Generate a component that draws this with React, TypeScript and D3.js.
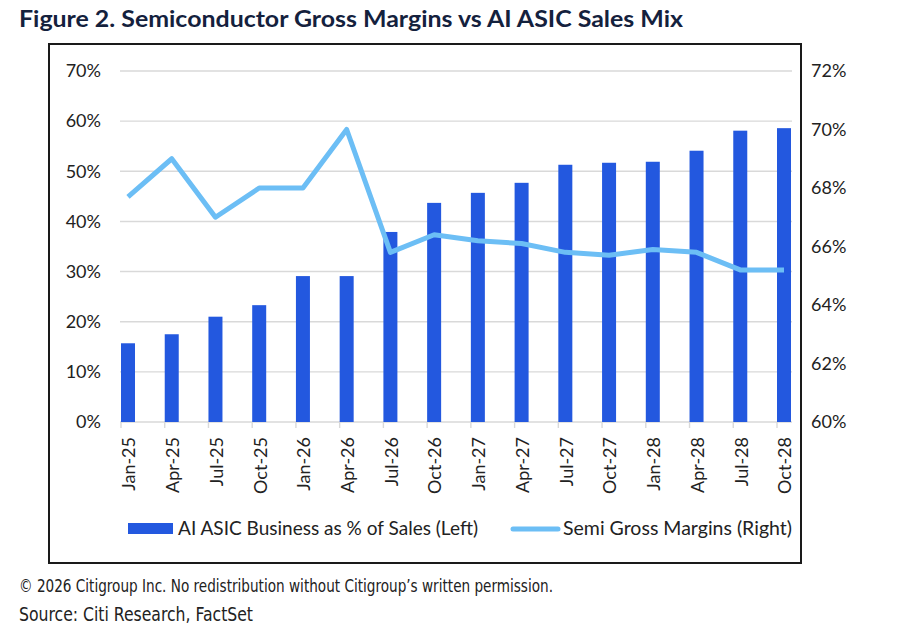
import React from 'react';
import * as d3 from 'd3';

const categories = [
  'Jan-25', 'Apr-25', 'Jul-25', 'Oct-25',
  'Jan-26', 'Apr-26', 'Jul-26', 'Oct-26',
  'Jan-27', 'Apr-27', 'Jul-27', 'Oct-27',
  'Jan-28', 'Apr-28', 'Jul-28', 'Oct-28',
];

// AI ASIC business as % of sales (left axis)
const asicShare = [15.7, 17.5, 21.0, 23.3, 29.1, 29.1, 37.9, 43.7, 45.7, 47.7, 51.3, 51.7, 51.9, 54.1, 58.1, 58.6];

// Semi gross margins (right axis)
const grossMargin = [67.7, 69.0, 67.0, 68.0, 68.0, 70.0, 65.8, 66.4, 66.2, 66.1, 65.8, 65.7, 65.9, 65.8, 65.2, 65.2];

const leftTicks = [0, 10, 20, 30, 40, 50, 60, 70];
const rightTicks = [60, 62, 64, 66, 68, 70, 72];

const W = 900;
const H = 628;
const plot = { left: 120, right: 792, top: 71, bottom: 422 };
const BAR_W = 14;

const BAR_COLOR = '#2358df';
const LINE_COLOR = '#6cbef5';
const GRID = '#d9d9d9';
const TEXT = '#222';
const axisFont = 'Lato, "Open Sans", sans-serif';
const narrowFont = '"Liberation Sans Narrow", "DejaVu Sans Condensed", "Roboto", sans-serif';

const x = d3.scalePoint<string>().domain(categories).range([128, 784]);
const yL = d3.scaleLinear().domain([0, 70]).range([plot.bottom, plot.top]);
const yR = d3.scaleLinear().domain([60, 72]).range([plot.bottom, plot.top]);

const line = d3.line<number>()
  .x((_d, i) => x(categories[i])!)
  .y(d => yR(d));

export default function App() {
  return (
    <svg width={W} height={H} style={{ position: 'absolute', left: 0, top: 0, background: '#fff' }}>
      {/* title */}
      <text x={19} y={27} fontFamily={axisFont} fontWeight={700} fontSize={23} fill="#14213d"
        textLength={664} lengthAdjust="spacingAndGlyphs">
        Figure 2. Semiconductor Gross Margins vs AI ASIC Sales Mix
      </text>

      {/* frame */}
      <rect x={49} y={44} width={752} height={519} fill="none" stroke="#1a1a1a" strokeWidth={2} />

      {/* gridlines */}
      {leftTicks.map(t => (
        <line key={t} x1={plot.left} x2={plot.right} y1={yL(t)} y2={yL(t)} stroke={GRID} strokeWidth={1.4} />
      ))}

      {/* category tick marks */}
      {categories.map(c => (
        <line key={c} x1={x(c)! - BAR_W / 2} x2={x(c)! - BAR_W / 2} y1={plot.bottom} y2={plot.bottom + 6} stroke={GRID} strokeWidth={1.4} />
      ))}

      {/* bars */}
      {asicShare.map((v, i) => (
        <rect key={i} x={x(categories[i])! - BAR_W / 2} y={yL(v)} width={BAR_W} height={yL(0) - yL(v)} fill={BAR_COLOR} />
      ))}

      {/* margin line */}
      <path d={line(grossMargin)!} fill="none" stroke={LINE_COLOR} strokeWidth={5} strokeLinejoin="round" />

      {/* left axis */}
      {leftTicks.map(t => (
        <text key={t} x={101} y={yL(t)} dy="0.35em" textAnchor="end" fontFamily={axisFont} fontSize={18} fill={TEXT}>
          {t}%
        </text>
      ))}

      {/* right axis */}
      {rightTicks.map(t => (
        <text key={t} x={811} y={yR(t)} dy="0.35em" textAnchor="start" fontFamily={axisFont} fontSize={18} fill={TEXT}>
          {t}%
        </text>
      ))}

      {/* x labels */}
      {categories.map(c => (
        <text key={c} transform={`translate(${x(c)! + 1},437) rotate(-90)`} dy="0.35em" textAnchor="end" fontFamily={axisFont} fontSize={18} fill={TEXT}>
          {c}
        </text>
      ))}

      {/* legend */}
      <rect x={128} y={523} width={45} height={11} fill={BAR_COLOR} />
      <text x={178} y={535} fontFamily={axisFont} fontSize={20} fill={TEXT} textLength={300} lengthAdjust="spacingAndGlyphs">
        AI ASIC Business as % of Sales (Left)
      </text>
      <line x1={513} x2={558} y1={529} y2={529} stroke={LINE_COLOR} strokeWidth={5} strokeLinecap="round" />
      <text x={563} y={535} fontFamily={axisFont} fontSize={20} fill={TEXT} textLength={229} lengthAdjust="spacingAndGlyphs">
        Semi Gross Margins (Right)
      </text>

      {/* footer */}
      <text x={19} y={592} fontFamily={narrowFont} fontSize={18} fill={TEXT} textLength={534} lengthAdjust="spacingAndGlyphs">
        © 2026 Citigroup Inc. No redistribution without Citigroup’s written permission.
      </text>
      <text x={19} y={621} fontFamily={narrowFont} fontSize={19} fill={TEXT} textLength={234} lengthAdjust="spacingAndGlyphs">
        Source: Citi Research, FactSet
      </text>
    </svg>
  );
}
